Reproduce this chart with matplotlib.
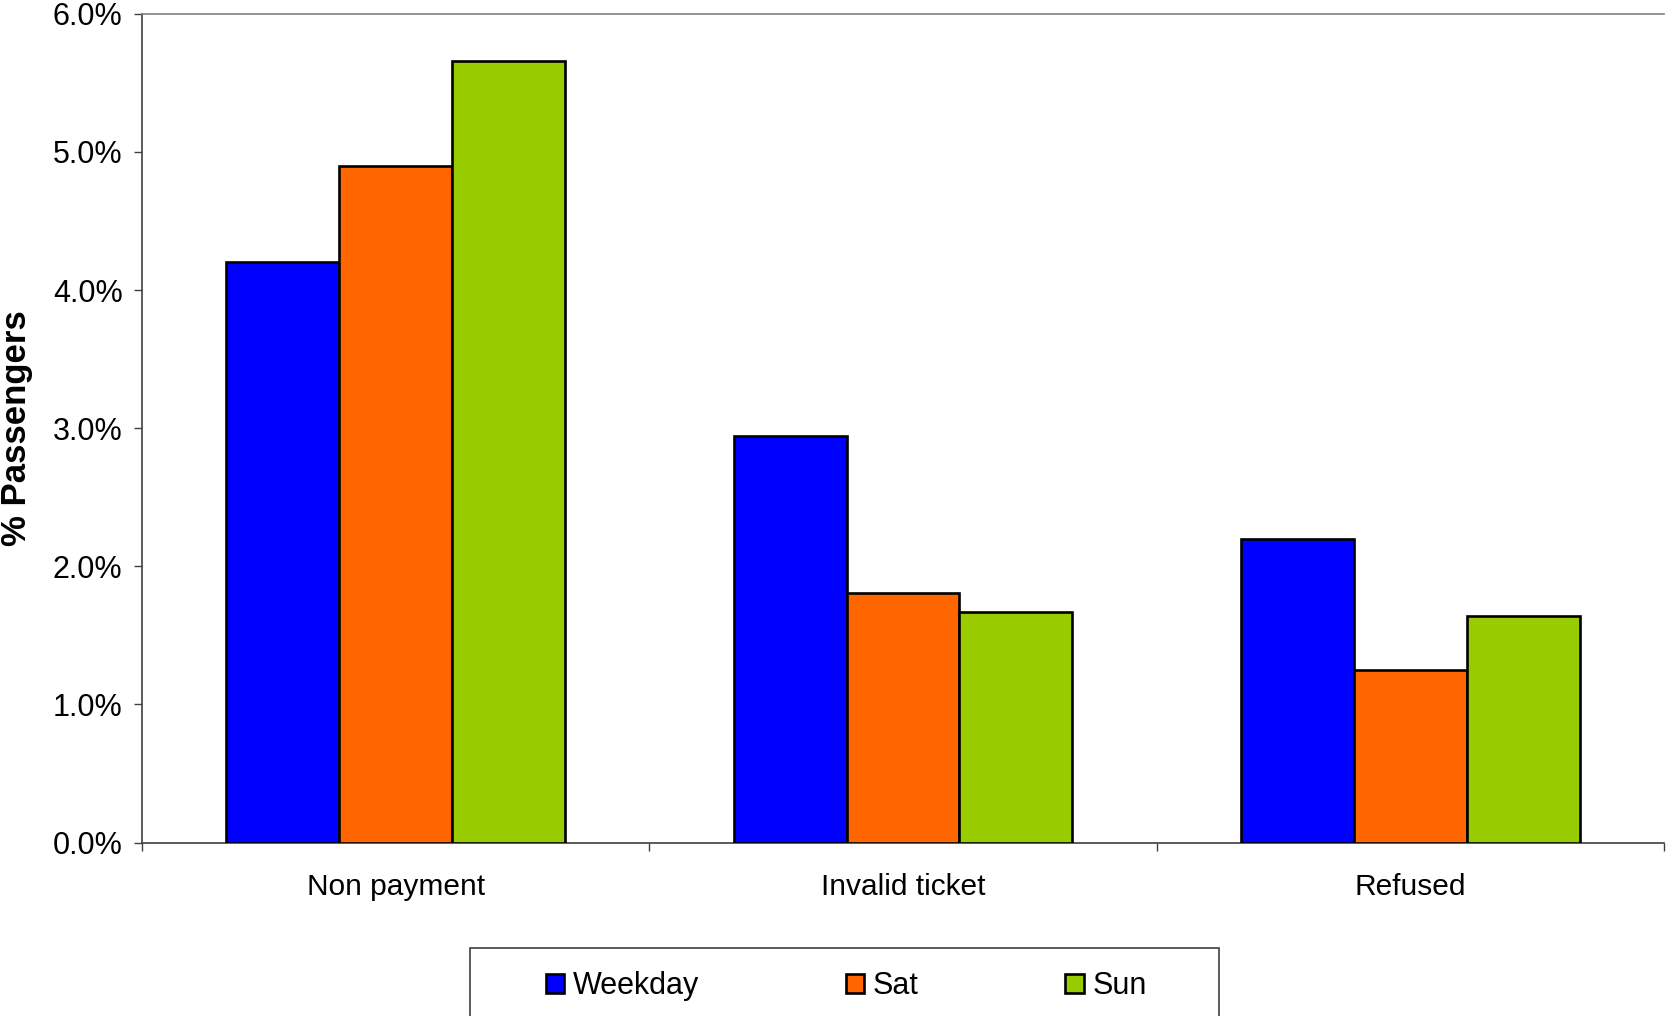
import matplotlib
matplotlib.use("Agg")
import matplotlib.pyplot as plt
from matplotlib.patches import Rectangle
import numpy as np

plt.rcParams['font.family'] = ['Liberation Sans', 'DejaVu Sans']

categories = ["Non payment", "Invalid ticket", "Refused"]
series_names = ["Weekday", "Sat", "Sun"]
weekday = [4.20, 2.94, 2.20]
sat = [4.90, 1.81, 1.25]
sun = [5.66, 1.67, 1.64]
colors = ["#0000FF", "#FF6600", "#99CC00"]
yticks = [0, 1, 2, 3, 4, 5, 6]

fig = plt.figure(figsize=(16.66, 10.16), dpi=100)
ax = fig.add_axes([142/1666, 1-842.6/1016, (1664-142)/1666, (842.6-13.8)/1016])

x = np.arange(len(categories))
bw = 0.2225
for i, (vals, name, c) in enumerate(zip([weekday, sat, sun], series_names, colors)):
    ax.bar(x + (i-1)*bw, vals, width=bw, color=c, edgecolor='black', linewidth=1.9,
           label=name, zorder=3)

ax.set_xlim(-0.5, len(categories)-0.5)
ax.set_ylim(0, 6)
ax.set_yticks(yticks)
ax.set_yticklabels([f"{v:.1f}%" for v in yticks], fontsize=22)

ax.set_xticks(np.arange(len(categories)+1) - 0.5)
ax.set_xticklabels([])
ax.set_xticks(x, minor=True)
ax.set_xticklabels(categories, minor=True, fontsize=21.5)
ax.tick_params(axis='x', which='minor', length=0, pad=22)
ax.tick_params(axis='x', which='major', length=6, width=1, color='#404040', direction='out')
ax.tick_params(axis='y', length=6, width=1, color='#404040', direction='out', pad=8)

for s in ['left', 'bottom']:
    ax.spines[s].set_color('#404040')
    ax.spines[s].set_linewidth(1.2)
ax.spines['top'].set_color('#808080')
ax.spines['top'].set_linewidth(1.2)
ax.spines['right'].set_visible(False)

fig.text(17/1666, 1-428/1016, "% Passengers", rotation=90, fontsize=25,
         fontweight='bold', ha='center', va='center')

# legend box
fig.patches.append(Rectangle((470/1666, -0.05), (1219-470)/1666, 0.05+1-948/1016,
                             transform=fig.transFigure, facecolor='white',
                             edgecolor='#404040', linewidth=1.2, zorder=0))
handles, labels = ax.get_legend_handles_labels()
leg = fig.legend(handles, labels, ncol=3, loc='center left',
                 bbox_to_anchor=(546/1666, 1-986/1016), frameon=False,
                 fontsize=22, handlelength=0.6, handleheight=0.6,
                 handletextpad=0.28, columnspacing=4.8, borderpad=0, borderaxespad=0)
for h in leg.legend_handles:
    h.set_linewidth(1.9)

fig.savefig("out.png", dpi=100)
